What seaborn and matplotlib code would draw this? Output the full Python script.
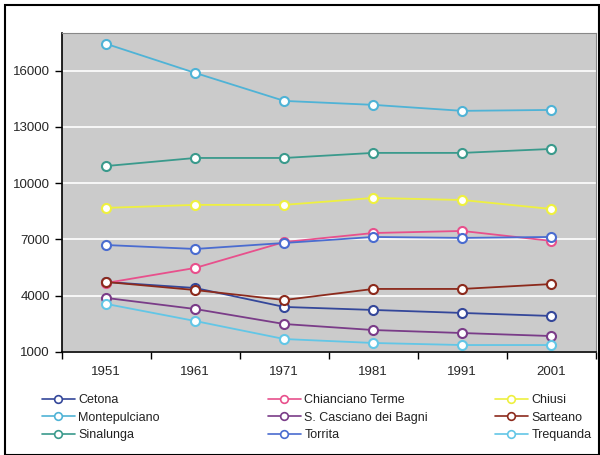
import matplotlib
matplotlib.use("Agg")
import matplotlib.pyplot as plt
import seaborn as sns
import pandas as pd
from matplotlib.patches import Rectangle
from matplotlib.lines import Line2D

years = ["1951", "1961", "1971", "1981", "1991", "2001"]
cetona = [4730, 4410, 3400, 3240, 3080, 2920]
chianciano = [4680, 5480, 6860, 7340, 7450, 6920]
chiusi = [8680, 8840, 8840, 9210, 9100, 8620]
montepulciano = [17420, 15870, 14380, 14170, 13850, 13900]
s_casciano = [3880, 3290, 2490, 2170, 2010, 1850]
sarteano = [4730, 4300, 3770, 4360, 4360, 4620]
sinalunga = [10910, 11340, 11340, 11610, 11610, 11820]
torrita = [6700, 6490, 6810, 7130, 7080, 7130]
trequanda = [3560, 2650, 1690, 1480, 1370, 1370]

series_names = ["Cetona", "Chianciano Terme", "Chiusi", "Montepulciano",
                "S. Casciano dei Bagni", "Sarteano", "Sinalunga", "Torrita", "Trequanda"]
series_values = [cetona, chianciano, chiusi, montepulciano, s_casciano,
                 sarteano, sinalunga, torrita, trequanda]
colors = ["#34479a", "#e8508c", "#eef040", "#4fb3d6", "#7a3c88",
          "#8c2a1c", "#3a9a8c", "#4a6cd0", "#62c6e6"]
yticks = [1000, 4000, 7000, 10000, 13000, 16000]

rows = []
for name, vals in zip(series_names, series_values):
    for y, v in zip(years, vals):
        rows.append({"year": y, "value": v, "series": name})
df = pd.DataFrame(rows)

sns.set_theme(style="white")
plt.rcParams['font.family'] = ['Liberation Sans', 'DejaVu Sans']

fig = plt.figure(figsize=(6.0, 4.55), dpi=100)
ax = fig.add_axes([0.103, 0.2264, 0.890, 0.7011])
ax.set_facecolor("#cbcbcb")

palette = dict(zip(series_names, colors))
sns.lineplot(data=df, x="year", y="value", hue="series", hue_order=series_names,
             palette=palette, marker="o", markersize=6.5, markerfacecolor="white",
             markeredgewidth=1.5, linewidth=1.3, ax=ax, legend=False, sort=False)
for line, c in zip(ax.get_lines(), colors):
    line.set_markeredgecolor(c)

ax.set_ylim(1000, 18000)
ax.set_xlim(-0.5, 5.5)
ax.set_yticks(yticks)
ax.set_yticklabels([str(t) for t in yticks], fontsize=9.5)
ax.yaxis.grid(True, color="white", linewidth=1.2)
ax.set_axisbelow(True)
ax.set_xticks(range(len(years)))
ax.set_xticklabels(years, fontsize=9.5)
ax.set_xticks([i - 0.5 for i in range(len(years) + 1)], minor=True)
ax.tick_params(axis="x", which="major", length=0, pad=10)
ax.tick_params(axis="x", which="minor", length=5, width=1, color="black", direction="out", bottom=True)
ax.tick_params(axis="y", length=5, width=1, color="black", direction="out", left=True)
ax.set_xlabel("")
ax.set_ylabel("")
for s in ["left", "bottom"]:
    ax.spines[s].set_color("black")
    ax.spines[s].set_linewidth(1.2)
for s in ["top", "right"]:
    ax.spines[s].set_color("#888888")
    ax.spines[s].set_linewidth(0.8)

handles = [Line2D([0], [0], color=c, marker="o", markerfacecolor="white",
                  markeredgecolor=c, markersize=5.5, linewidth=1.2, markeredgewidth=1.2)
           for c in colors]
col_x = [42 / 600, 268 / 600, 495 / 600]
for col in range(3):
    idx = [col, col + 3, col + 6]
    leg = fig.legend([handles[i] for i in idx], [series_names[i] for i in idx],
                     loc="upper left", bbox_to_anchor=(col_x[col], 1 - 394 / 455),
                     ncol=1, frameon=False, fontsize=9, handlelength=2.6,
                     handletextpad=0.3, labelspacing=0.45, borderpad=0,
                     borderaxespad=0)
    for t in leg.get_texts():
        t.set_color("#222222")

fig.patches.append(Rectangle((0.008, 0.0), 0.99, 0.989, transform=fig.transFigure,
                             fill=False, edgecolor="black", linewidth=1.5))

fig.savefig("out.png", dpi=100)
